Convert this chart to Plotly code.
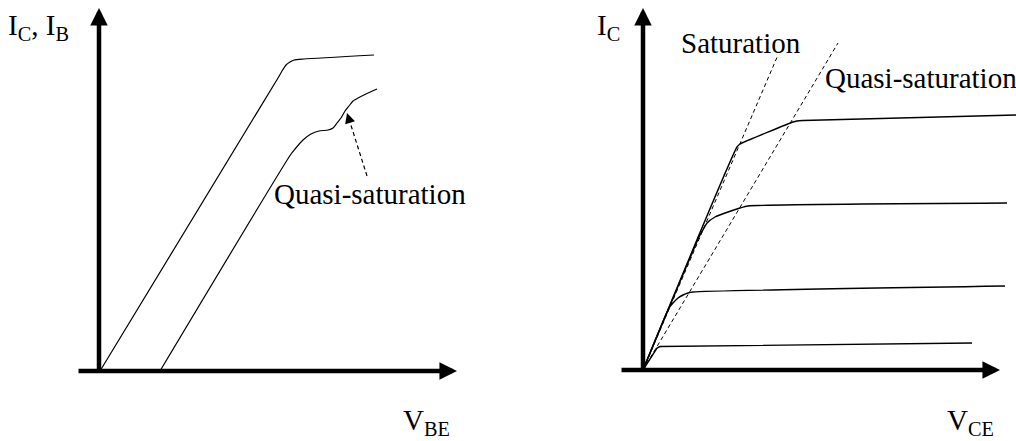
import plotly.graph_objects as go

# ---------------- data (arbitrary units, origin = axes origin) ----------------
# Left panel: I_C and I_B versus V_BE
ic_vbe_x = [1, 179, 183, 187, 191, 195, 205, 275]
ic_vbe_y = [0, 293, 300, 306, 309, 311, 312, 316]
ib_vbe_x = [61, 192, 196, 204, 212, 220, 229, 234, 238, 242, 246, 250, 254, 259, 267, 278]
ib_vbe_y = [0, 217, 222, 231, 237, 240, 241, 243, 248, 253, 260, 265, 270, 273, 277, 282]
qs_arrow_x = [268, 250]
qs_arrow_y = [195, 252]
qs_arrow_tip = (248, 258)

# Right panel: I_C versus V_CE family
vce_curves = [
    ([0, 94, 97, 100, 150, 154, 160, 375], [0, 223, 226, 227.5, 248, 249, 249.5, 255]),
    ([0, 57, 61, 64, 72, 85, 97, 105, 364], [0, 135, 142, 147, 153, 158, 162, 164, 167]),
    ([0, 26, 30, 35, 40, 45, 50, 362], [0, 62, 67, 72, 75, 77, 78, 84]),
    ([0, 14, 17, 329], [0, 22, 23.5, 27]),
]
sat_line_x = [0, 135]
sat_line_y = [0, 315]
quasi_line_x = [0, 195]
quasi_line_y = [0, 327]

FONT = "Liberation Serif"

fig = go.Figure()

# left curves
for xs, ys in [(ic_vbe_x, ic_vbe_y), (ib_vbe_x, ib_vbe_y)]:
    fig.add_trace(go.Scatter(x=xs, y=ys, mode="lines", xaxis="x", yaxis="y",
                             line=dict(color="black", width=1.2, shape="spline", smoothing=0.6),
                             hoverinfo="skip", showlegend=False))
fig.add_trace(go.Scatter(x=qs_arrow_x, y=qs_arrow_y, mode="lines", xaxis="x", yaxis="y",
                         line=dict(color="black", width=1.2, dash="4px,3px"),
                         hoverinfo="skip", showlegend=False))

# right curves
for i, (xs, ys) in enumerate(vce_curves):
    shape = "linear" if i == 3 else "spline"
    fig.add_trace(go.Scatter(x=xs, y=ys, mode="lines", xaxis="x2", yaxis="y2",
                             line=dict(color="black", width=1.4, shape=shape, smoothing=0.5),
                             hoverinfo="skip", showlegend=False))
for xs, ys in [(sat_line_x, sat_line_y), (quasi_line_x, quasi_line_y)]:
    fig.add_trace(go.Scatter(x=xs, y=ys, mode="lines", xaxis="x2", yaxis="y2",
                             line=dict(color="black", width=1, dash="4px,3px"),
                             hoverinfo="skip", showlegend=False))

ann = []
def arrow(xr, yr, tip, tail, width=4.5, size=0.78):
    ann.append(dict(x=tip[0], y=tip[1], ax=tail[0], ay=tail[1], xref=xr, yref=yr,
                    axref=xr, ayref=yr, text="", showarrow=True, arrowhead=2,
                    arrowwidth=width, arrowsize=size, arrowcolor="black", standoff=0))

# axes with arrows
arrow("x", "y", (0, 363), (0, -2))
arrow("x", "y", (358, 0), (-22, 0))
arrow("x2", "y2", (0, 362), (0, -2))
arrow("x2", "y2", (357, 0), (-23, 0))
# dashed annotation arrow head
arrow("x", "y", qs_arrow_tip, (251, 248.5), width=1.2, size=1.7)

def label(xr, yr, x, y, text):
    ann.append(dict(x=x, y=y, xref=xr, yref=yr, text=text, showarrow=False,
                    xanchor="left", yanchor="middle",
                    font=dict(family=FONT, size=29, color="black")))

label("x", "y", -93, 344, "I<sub>C</sub>, I<sub>B</sub>")
label("x", "y", 173, 177, "Quasi-saturation")
label("x", "y", 302, -51, "V<sub>BE</sub>")
label("x2", "y2", -48, 343, "I<sub>C</sub>")
label("x2", "y2", 36, 327, "Saturation")
label("x2", "y2", 180, 292, "Quasi-saturation")
label("x2", "y2", 302, -52, "V<sub>CE</sub>")

fig.update_layout(
    width=1016, height=441, autosize=False,
    margin=dict(l=0, r=0, t=0, b=0),
    paper_bgcolor="white", plot_bgcolor="white",
    xaxis=dict(domain=[0, 0.5], range=[-99, 409], visible=False),
    yaxis=dict(domain=[0, 1], range=[-70, 371], visible=False),
    xaxis2=dict(domain=[0.5, 1], range=[-135, 373], visible=False),
    yaxis2=dict(domain=[0, 1], range=[-71, 370], visible=False, anchor="x2"),
    annotations=ann,
    showlegend=False,
)

fig.write_html("out.html", config={"displayModeBar": False},
               post_script="document.body.style.margin='0';")
